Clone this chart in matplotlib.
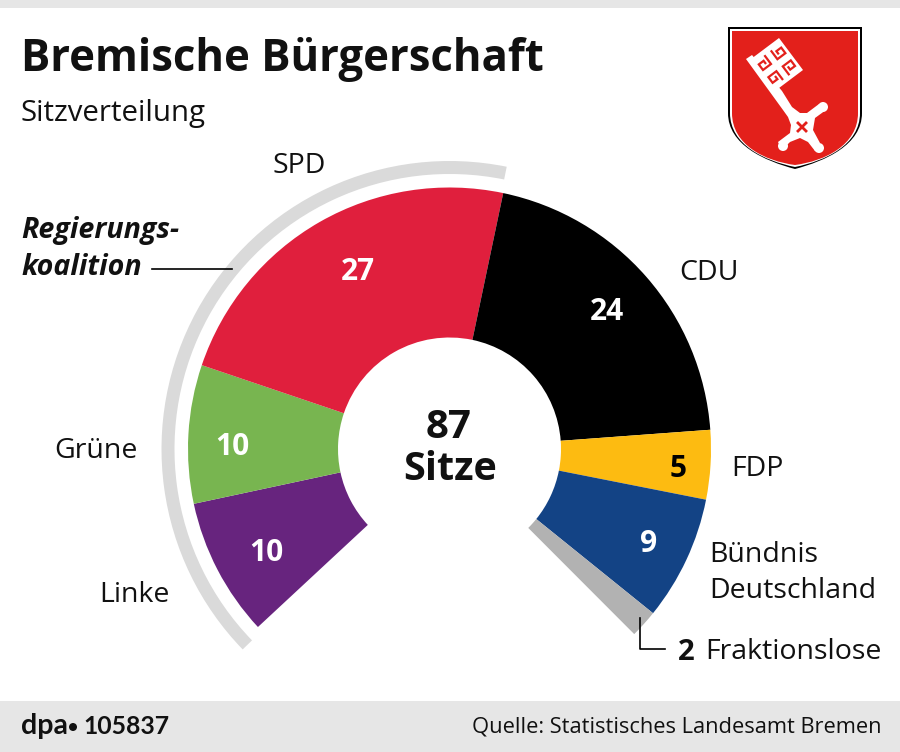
import matplotlib
matplotlib.use("Agg")
import matplotlib.pyplot as plt
from matplotlib.patches import Wedge, Rectangle, PathPatch, Polygon, Circle
from matplotlib.path import Path

parties = ["Linke", "Grüne", "SPD", "CDU", "FDP", "Bündnis\nDeutschland", "Fraktionslose"]
seats = [10, 10, 27, 24, 5, 9, 2]
colors = ["#67247e", "#78b550", "#e01f3d", "#000000", "#fdbb11", "#134385", "#b2b2b2"]
seat_label_colors = ["white", "white", "white", "white", "black", "white", None]
RED = "#e3201b"
INK = "#111111"

# pixel coordinates, y goes down
fig = plt.figure(figsize=(9, 7.52), dpi=100)
ax = fig.add_axes([0, 0, 1, 1])
ax.set_xlim(0, 900)
ax.set_ylim(752, 0)
ax.axis("off")
plt.rcParams["font.family"] = ["Open Sans", "DejaVu Sans"]

# top strip and footer
ax.add_patch(Rectangle((0, 0), 900, 8, color="#e6e6e6", lw=0))
ax.add_patch(Rectangle((0, 701), 900, 51, color="#e6e6e6", lw=0))

# half circle
cx, cy = 449.5, 449
start = -222.9
per_seat = 3.08
pos = start
for s, c in zip(seats, colors):
    ax.add_patch(Wedge((cx, cy), 261.5, pos, pos + s * per_seat, width=150, color=c, lw=0))
    pos += s * per_seat

# coalition band over Linke, Grüne, SPD
coalition = seats[0] + seats[1] + seats[2]
ax.add_patch(Wedge((cx, cy), 288, start - 1.2, start + coalition * per_seat - 0.4,
                   width=13, color="#dadada", lw=0))

# titles
ax.text(21, 59, "Bremische Bürgerschaft", fontsize=31.4, fontweight="bold", va="center", color=INK)
ax.text(21, 114, "Sitzverteilung", fontsize=21.2, va="center", color=INK)

# party labels
label_pos = [(99, 595), (54, 451), (272, 166), (679, 273), (731, 469), (709, 573), (705, 652)]
for name, (x, y) in zip(parties, label_pos):
    ax.text(x, y, name, fontsize=20.5, va="center", ha="left", color=INK, linespacing=1.36)

ax.text(678, 652, "2", fontsize=21.2, fontweight="bold", va="center", color=INK)
ax.text(21, 249, "Regierungs-\nkoalition", fontsize=20.6, fontweight="bold", fontstyle="italic",
        va="center", color=INK, linespacing=1.34)

# seat numbers
seat_pos = [(266, 553), (232, 447), (358, 272), (607, 312), (678, 469), (649, 544)]
for s, (x, y), c in zip(seats, seat_pos, seat_label_colors):
    ax.text(x, y, str(s), fontsize=21.5, fontweight="bold", ha="center", va="center", color=c)

# center
ax.text(449, 427, "87", fontsize=29, fontweight="bold", ha="center", va="center", color=INK)
ax.text(450, 470, "Sitze", fontsize=28.5, fontweight="bold", ha="center", va="center", color=INK)

# leader lines
ax.plot([152, 232], [269, 269], color="black", lw=1.2)
ax.plot([640, 640, 665], [618, 649, 649], color="black", lw=1.2)

# footer text
ax.text(21, 726, "dpa", fontsize=20.5, fontweight="bold", family=["Lato", "DejaVu Sans"], va="center", color=INK)
ax.add_patch(Circle((73, 727), 4, color=INK, lw=0))
ax.text(83, 726, "105837", fontsize=17.8, fontweight="bold", family=["Lato", "DejaVu Sans"], va="center", color=INK)
ax.text(881, 727, "Quelle: Statistisches Landesamt Bremen", fontsize=15.75, ha="right", va="center", color=INK)


# crest
def shield(inset, color):
    l, r, t, b = 728 + inset, 862 - inset, 27 + inset, 169 - inset
    verts = [(l, t), (r, t), (r, 113), (r, 145), (825, 161), (795, b),
             (765, 161), (l, 145), (l, 113), (l, t)]
    codes = [Path.MOVETO, Path.LINETO, Path.LINETO, Path.CURVE4, Path.CURVE4, Path.CURVE4,
             Path.CURVE4, Path.CURVE4, Path.CURVE4, Path.CLOSEPOLY]
    ax.add_patch(PathPatch(Path(verts, codes), facecolor=color, edgecolor="none"))


shield(0, "black")
shield(2, "white")
shield(4, RED)


def local(u, v):
    # key bit coordinates: u along the shaft, v away from it
    return 751 + 0.6 * u + 0.8 * v, 59 + 0.8 * u - 0.6 * v


# key bit
ax.add_patch(Polygon([local(0, 0), local(0, 35), local(40, 35), local(40, 0)], color="white", lw=0))
# key shaft and cross
ax.add_patch(Polygon([(746, 59), (752, 55), (782, 91), (792, 107), (800, 113), (807, 113), (819, 104),
                      (826, 110), (815, 118), (813, 130), (820, 143), (815, 151), (808, 142), (800, 138),
                      (790, 142), (782, 150), (778, 142), (790, 133), (791, 125), (788, 117), (783, 110)],
                     color="white", lw=0))
for x, y in [(823, 107), (783, 146), (819, 148)]:
    ax.add_patch(Circle((x, y), 5, color="white", lw=0))
ax.plot([798, 806], [123, 131], color=RED, lw=2)
ax.plot([798, 806], [131, 123], color=RED, lw=2)

# four small spirals in the bit
spiral = [(-6, 5), (5, 5), (5, -5), (-2, -5), (-2, 1), (2, 1)]
for uc, vc, su, sv in [(11, 8, 1, 1), (11, 26, 1, -1), (30, 8, -1, 1), (30, 26, -1, -1)]:
    pts = [local(uc + su * a, vc + sv * b) for a, b in spiral]
    ax.plot([p[0] for p in pts], [p[1] for p in pts], color=RED, lw=1.6, solid_capstyle="butt",
            solid_joinstyle="miter")

plt.savefig("out.png", dpi=100)
